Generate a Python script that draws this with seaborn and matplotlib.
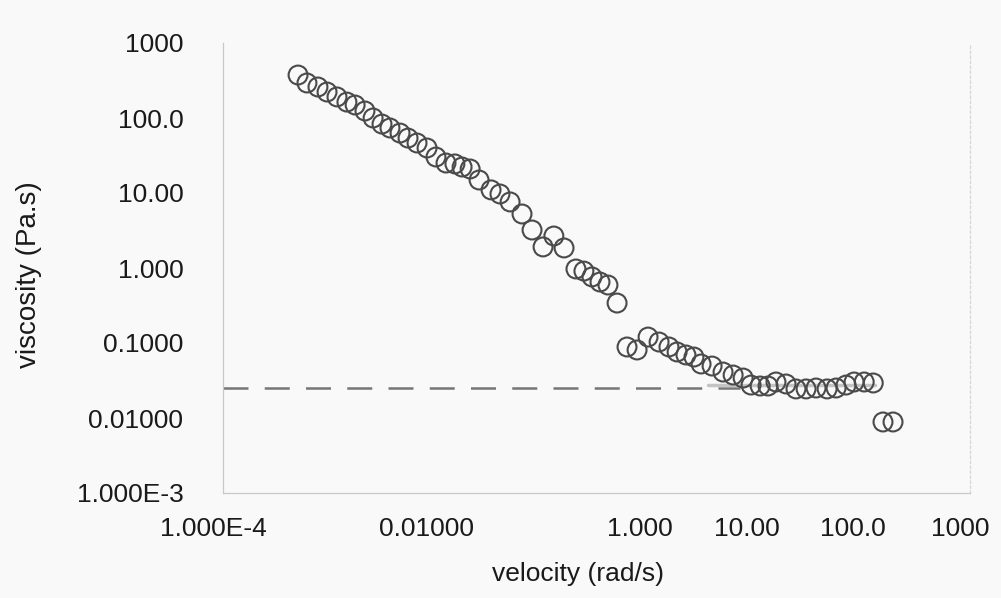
import numpy as np
import pandas as pd
import matplotlib
matplotlib.use("Agg")
import matplotlib.pyplot as plt
import matplotlib.transforms as mtransforms
from matplotlib.ticker import FixedLocator, FixedFormatter, LogLocator, NullFormatter
import seaborn as sns

# Flow sweep: shear velocity (rad/s) and measured viscosity (Pa.s)
velocity = [
    5.05e-4, 6.12e-4, 7.76e-4, 9.44e-4, 1.17e-3, 1.45e-3, 1.73e-3, 2.14e-3,
    2.55e-3, 3.09e-3, 3.67e-3, 4.56e-3, 5.42e-3, 6.58e-3, 8.17e-3, 9.90e-3,
    0.0123, 0.0149, 0.0174, 0.0207, 0.0251, 0.0325, 0.0394, 0.0490,
    0.0634, 0.0787, 0.0998, 0.126, 0.157, 0.203, 0.241, 0.287,
    0.341, 0.405, 0.493, 0.611, 0.759, 0.962, 1.22, 1.51,
    1.80, 2.18, 2.59, 3.02, 3.83, 4.85, 6.03, 7.48,
    8.88, 10.8, 12.8, 15.2, 18.9, 23.4, 29.1, 36.1,
    45.8, 55.6, 69.0, 82.0, 102.0, 124.0, 153.0, 190.0,
]
viscosity = [
    374, 293, 259, 222, 191, 163, 149, 124,
    100, 83, 73.6, 63, 54, 46.4, 39.8, 30.2,
    25.1, 24.4, 22.2, 20.9, 14.9, 11.0, 9.7, 7.6,
    5.25, 3.21, 1.91, 2.67, 1.85, 0.97, 0.91, 0.76,
    0.65, 0.593, 0.341, 0.0885, 0.0807, 0.120, 0.103, 0.0885,
    0.0759, 0.0692, 0.065, 0.0525, 0.0493, 0.041, 0.0374, 0.0341,
    0.0275, 0.0267, 0.0267, 0.0302, 0.0284, 0.0244, 0.0244, 0.0251,
    0.0244, 0.0251, 0.0275, 0.0302, 0.0302, 0.0293, 0.00885, 0.00885,
]

# Newtonian plateau reference (dashed) and plateau fit (solid)
plateau_x = [1.0e-4, 7.0]
plateau_y = [0.0251, 0.0251]
fit_x = [3.5, 130.0]
fit_y = [0.0275, 0.0275]

x_ticks = [1e-4, 1e-2, 1, 10, 100, 1000]
x_ticklabels = ["1.000E-4", "0.01000", "1.000", "10.00", "100.0", "1000"]
y_ticks = [1e-3, 1e-2, 1e-1, 1, 10, 100, 1000]
y_ticklabels = ["1.000E-3", "0.01000", "0.1000", "1.000", "10.00", "100.0", "1000"]

sns.set_theme(style="white")
plt.rcParams["font.family"] = ["Liberation Sans", "DejaVu Sans"]

bg = "#f9f9f9"
fig = plt.figure(figsize=(10.01, 5.98), dpi=100, facecolor=bg)
ax = fig.add_axes([223 / 1001, 105 / 598, 747 / 1001, 450 / 598])
ax.set_facecolor(bg)

df = pd.DataFrame({"velocity": velocity, "viscosity": viscosity})

ax.set_xscale("log")
ax.set_yscale("log")

sns.lineplot(x=plateau_x, y=plateau_y, ax=ax, color="#767676", linewidth=1.8,
             linestyle=(0, (10, 6.5)), zorder=2)
sns.lineplot(x=fit_x, y=fit_y, ax=ax, color="#c4c4c4", linewidth=2.5, zorder=2)
sns.scatterplot(data=df, x="velocity", y="viscosity", ax=ax, marker="o", s=185,
                facecolors="none", edgecolor="#4a4a4a", linewidth=1.5, zorder=3)

ax.set_xlim(1e-4, 1000)
ax.set_ylim(1e-3, 1000)

ax.xaxis.set_major_locator(FixedLocator(x_ticks))
ax.xaxis.set_major_formatter(FixedFormatter(x_ticklabels))
ax.yaxis.set_major_locator(FixedLocator(y_ticks))
ax.yaxis.set_major_formatter(FixedFormatter(y_ticklabels))
ax.xaxis.set_minor_locator(LogLocator(base=10, subs=np.arange(2, 10)))
ax.yaxis.set_minor_locator(LogLocator(base=10, subs=np.arange(2, 10)))
ax.xaxis.set_minor_formatter(NullFormatter())
ax.yaxis.set_minor_formatter(NullFormatter())

ax.tick_params(axis="both", which="major", direction="inout", length=5,
               width=0.8, color="#bdbdbd", labelsize=19, labelcolor="#1a1a1a")
ax.tick_params(axis="both", which="minor", direction="inout", length=3,
               width=0.6, color="#cfcfcf")
ax.tick_params(axis="x", which="major", pad=15)
ax.tick_params(axis="y", which="major", pad=26)

# Shift the x tick labels slightly to the left of their ticks
shift = mtransforms.ScaledTranslation(-10 / 100, 0, fig.dpi_scale_trans)
for lbl in ax.get_xticklabels():
    lbl.set_transform(lbl.get_transform() + shift)

for side in ["left", "bottom"]:
    ax.spines[side].set_color("#c8c8c8")
    ax.spines[side].set_linewidth(0.9)
ax.spines["right"].set_color("#d6d6d6")
ax.spines["right"].set_linewidth(0.9)
ax.spines["right"].set_linestyle((0, (2, 2)))
ax.spines["top"].set_visible(False)

ax.set_xlabel("velocity (rad/s)", fontsize=19, color="#1a1a1a")
ax.set_ylabel("viscosity (Pa.s)", fontsize=20, color="#1a1a1a")
ax.xaxis.set_label_coords((578 - 223) / 747, (493 - 562) / 450)
ax.yaxis.set_label_coords((42 - 223) / 747, (493 - 275) / 450)

fig.savefig("out.png", dpi=100, facecolor=bg)
